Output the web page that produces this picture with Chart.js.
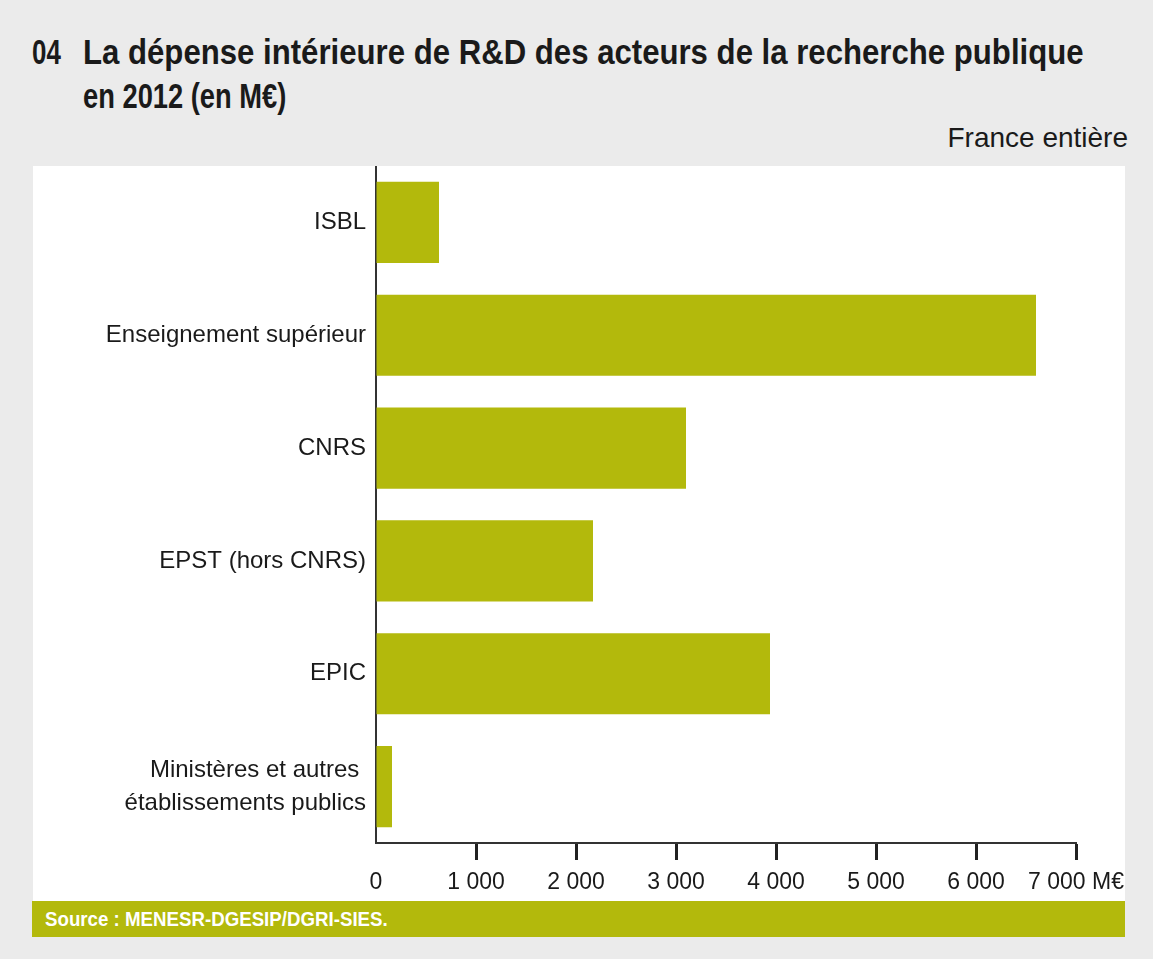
<!DOCTYPE html>
<html lang="fr">
<head>
<meta charset="utf-8">
<script src="https://cdn.jsdelivr.net/npm/chart.js@4.4.1/dist/chart.umd.min.js"></script>
<style>
  html, body { margin: 0; padding: 0; }
  body { width: 1153px; height: 959px; background: #ebebeb; position: relative; overflow: hidden;
         font-family: 'Liberation Sans', Arial, sans-serif; color: #1a1a1a; }
  .t { position: absolute; white-space: nowrap; transform-origin: 0 0; }
  .num { left: 32px; top: 30px; font-size: 35px; font-weight: bold; transform: scaleX(0.74); }
  .l1 { left: 83px; top: 30px; font-size: 35px; font-weight: bold; line-height: 44px; transform: scaleX(0.89); }
  .l2 { left: 83px; top: 74px; font-size: 35px; font-weight: bold; line-height: 44px; transform: scaleX(0.78); }
  .scope { position: absolute; right: 25px; top: 122px; font-size: 28px; }
  .panel { position: absolute; left: 33px; top: 166px; width: 1092px; height: 735px; background: #fff; }
  .source { position: absolute; left: 32px; top: 901px; width: 1093px; height: 36px; background: #b3b90c; }
  .source span { left: 13px; top: 0; color: #fff; font-weight: bold; font-size: 21px; line-height: 36px; transform: scaleX(0.89); }
</style>
</head>
<body>
<div class="t num" style="line-height:44px">04</div>
<div class="t l1">La dépense intérieure de R&amp;D des acteurs de la recherche publique</div>
<div class="t l2">en 2012 (en M€)</div>
<div class="scope">France entière</div>
<div class="panel"><canvas id="chart" width="1092" height="735"></canvas></div>
<div class="source"><span class="t">Source : MENESR-DGESIP/DGRI-SIES.</span></div>

<script>
// ================== DATA ==================
const categories = [
  'ISBL',
  'Enseignement supérieur',
  'CNRS',
  'EPST (hors CNRS)',
  'EPIC',
  ['Ministères et autres ', 'établissements publics']
];
const depenses = [630, 6600, 3100, 2170, 3940, 160]; // M€
const xTickLabels = ['0', '1 000', '2 000', '3 000', '4 000', '5 000', '6 000', '7 000 M€'];

const FONT = "'Liberation Sans', Arial, sans-serif";
const OLIVE = '#b3b90c';

// ================== CHART ==================
new Chart(document.getElementById('chart'), {
  type: 'bar',
  data: {
    labels: categories,
    datasets: [{ data: depenses, backgroundColor: OLIVE, borderWidth: 0, barPercentage: 0.72, categoryPercentage: 1 }]
  },
  options: {
    indexAxis: 'y',
    responsive: false,
    animation: false,
    layout: { padding: { left: 0, right: 49, top: 0, bottom: 0 } },
    plugins: { legend: { display: false }, tooltip: { enabled: false } },
    scales: {
      y: {
        // fixed label column, no extra padding for the two-line label
        afterFit: s => { s.width = 343; s.paddingTop = 0; s.paddingBottom = 0; },
        grid: { display: false, drawTicks: false },
        border: { display: true, color: '#333', width: 2 },
        ticks: { color: '#1a1a1a', padding: 10, font: { family: FONT, size: 24, lineHeight: 1.375 } }
      },
      x: {
        min: 0, max: 7000,
        afterFit: s => { s.height = 58; s.paddingLeft = 0; s.paddingRight = 0; },
        grid: {
          drawOnChartArea: false, drawTicks: true, tickLength: 17, tickWidth: 3,
          tickColor: ctx => ctx.index === 0 ? 'rgba(0,0,0,0)' : '#222'
        },
        border: { display: true, color: '#333', width: 2 },
        ticks: {
          stepSize: 1000, maxRotation: 0, autoSkip: false, padding: 9,
          color: '#1a1a1a', font: { family: FONT, size: 23 },
          callback: (v, i) => xTickLabels[i]
        }
      }
    }
  }
});
</script>
</body>
</html>
